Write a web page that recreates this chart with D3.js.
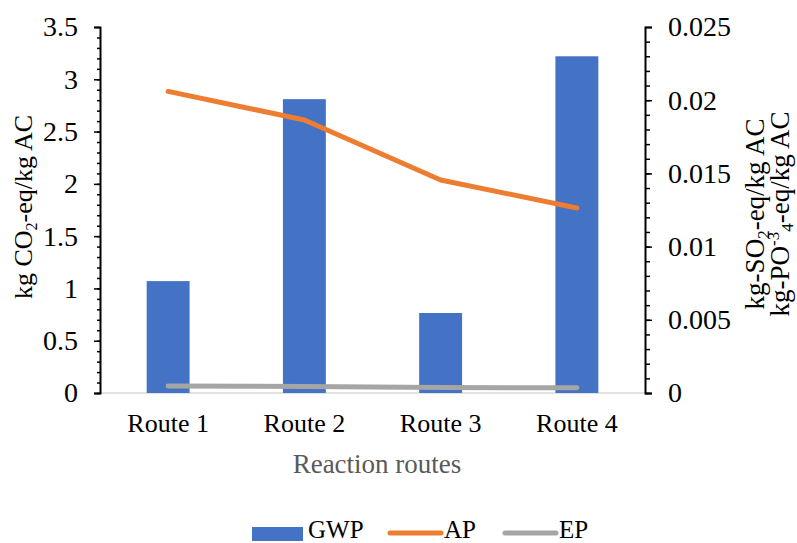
<!DOCTYPE html>
<html>
<head>
<meta charset="utf-8">
<script src="https://cdn.jsdelivr.net/npm/d3@7"></script>
<style>
  html, body { margin: 0; padding: 0; background: #fff; }
  svg { display: block; }
  text { font-family: "Liberation Serif", "Times New Roman", serif; }
</style>
</head>
<body>
<svg id="chart" width="797" height="543"></svg>
<script>
const categories = ["Route 1", "Route 2", "Route 3", "Route 4"];
const gwp = [1.07, 2.81, 0.765, 3.22];
const ap = [0.0206, 0.01865, 0.01455, 0.01264];
const ep = [0.00048, 0.00045, 0.00037, 0.00036];
const leftTicks = [0, 0.5, 1, 1.5, 2, 2.5, 3, 3.5];
const rightTicks = [0, 0.005, 0.01, 0.015, 0.02, 0.025];
const seriesNames = ["GWP", "AP", "EP"];
const colors = { GWP: "#4472C4", AP: "#ED7D31", EP: "#A5A5A5" };

const svg = d3.select("#chart");
const m = { left: 100, right: 645, top: 27, bottom: 393 };

const x = d3.scaleBand().domain(categories).range([m.left, m.right]).paddingInner(0).paddingOuter(0);
const yL = d3.scaleLinear().domain([0, 3.5]).range([m.bottom, m.top]);
const yR = d3.scaleLinear().domain([0, 0.025]).range([m.bottom, m.top]);

// baseline
svg.append("line").attr("x1", m.left).attr("x2", m.right)
  .attr("y1", yL(0)).attr("y2", yL(0)).attr("stroke", "#D9D9D9").attr("stroke-width", 1.5);

// bars
const bw = x.bandwidth() * 0.315;
svg.selectAll("rect.bar").data(categories).join("rect").attr("class", "bar")
  .attr("x", d => x(d) + x.bandwidth() / 2 - bw / 2)
  .attr("width", bw)
  .attr("y", (d, i) => yL(gwp[i]))
  .attr("height", (d, i) => yL(0) - yL(gwp[i]))
  .attr("fill", colors.GWP);

// lines
const line = (scale) => d3.line()
  .x((d, i) => x(categories[i]) + x.bandwidth() / 2)
  .y(d => scale(d));

svg.append("path").datum(ep).attr("d", line(yR))
  .attr("fill", "none").attr("stroke", colors.EP).attr("stroke-width", 5)
  .attr("stroke-linecap", "round").attr("stroke-linejoin", "round");
svg.append("path").datum(ap).attr("d", line(yR))
  .attr("fill", "none").attr("stroke", colors.AP).attr("stroke-width", 5)
  .attr("stroke-linecap", "round").attr("stroke-linejoin", "round");

// left axis
const leftMinor = d3.range(0, 35).map(i => i / 10);
const gL = svg.append("g").attr("transform", `translate(${m.left},0)`);
gL.call(d3.axisLeft(yL).tickValues(leftMinor).tickSize(3).tickFormat(""))
  .call(g => g.select(".domain").remove());
gL.append("g").call(d3.axisLeft(yL).tickValues(leftTicks).tickSize(6).tickPadding(16).tickFormat(d3.format("")))
  .call(g => g.select(".domain").attr("stroke-width", 2));
gL.selectAll("line").attr("stroke", "#000").attr("stroke-width", 1.5);
gL.selectAll("text").attr("font-size", 28).attr("fill", "#000")
  .attr("font-family", "Liberation Serif");

// right axis
const rightMinor = d3.range(0, 25).map(i => i / 1000);
const gR = svg.append("g").attr("transform", `translate(${m.right},0)`);
gR.call(d3.axisRight(yR).tickValues(rightMinor).tickSize(5).tickFormat(""))
  .call(g => g.select(".domain").remove());
gR.append("g").call(d3.axisRight(yR).tickValues(rightTicks).tickSize(7).tickPadding(16).tickFormat(d3.format("")))
  .call(g => g.select(".domain").attr("stroke-width", 2));
gR.selectAll("line").attr("stroke", "#000").attr("stroke-width", 1.5);
gR.selectAll("text").attr("font-size", 28).attr("fill", "#000")
  .attr("font-family", "Liberation Serif");

// x axis labels
const gX = svg.append("g").attr("transform", `translate(0,${m.bottom})`);
gX.call(d3.axisBottom(x).tickSize(0).tickPadding(21))
  .call(g => g.select(".domain").remove());
gX.selectAll("text").attr("font-size", 26).attr("fill", "#000")
  .attr("font-family", "Liberation Serif");

// x title
svg.append("text").attr("x", 377).attr("y", 473).attr("text-anchor", "middle")
  .attr("font-size", 27).attr("fill", "#595959").text("Reaction routes");

// left title
const lt = svg.append("text").attr("transform", "translate(32,207) rotate(-90)")
  .attr("text-anchor", "middle").attr("font-size", 26).attr("fill", "#000");
lt.append("tspan").text("kg CO");
lt.append("tspan").attr("font-size", 16).attr("dy", 5).text("2");
lt.append("tspan").attr("dy", -5).text("-eq/kg AC");

// right title
const rt1 = svg.append("text").attr("transform", "translate(764,214) rotate(-90)")
  .attr("text-anchor", "middle").attr("font-size", 27).attr("fill", "#000");
rt1.append("tspan").text("kg-SO");
rt1.append("tspan").attr("font-size", 17).attr("dy", 5).text("2");
rt1.append("tspan").attr("dy", -5).text("-eq/kg  AC");

const rt2 = svg.append("text").attr("transform", "translate(789,214) rotate(-90)")
  .attr("text-anchor", "middle").attr("font-size", 27).attr("fill", "#000");
rt2.append("tspan").text("kg-PO");
rt2.append("tspan").attr("font-size", 17).attr("dy", -10).text("-3");
rt2.append("tspan").attr("font-size", 17).attr("dy", 14).text("4");
rt2.append("tspan").attr("dy", -4).text("-eq/kg  AC");

// legend
const lg = svg.append("g");
const legendX = { GWP: 252, AP: 388, EP: 503 };
seriesNames.forEach(name => {
  const x0 = legendX[name];
  if (name === "GWP") {
    lg.append("rect").attr("x", x0).attr("y", 527).attr("width", 51).attr("height", 14)
      .attr("fill", colors.GWP);
  } else {
    lg.append("line").attr("x1", x0 + 2).attr("x2", x0 + 53).attr("y1", 533).attr("y2", 533)
      .attr("stroke", colors[name]).attr("stroke-width", 5).attr("stroke-linecap", "round");
  }
  lg.append("text").attr("x", x0 + 56).attr("y", 538).attr("font-size", 25)
    .attr("fill", "#000").text(name);
});
</script>
</body>
</html>
